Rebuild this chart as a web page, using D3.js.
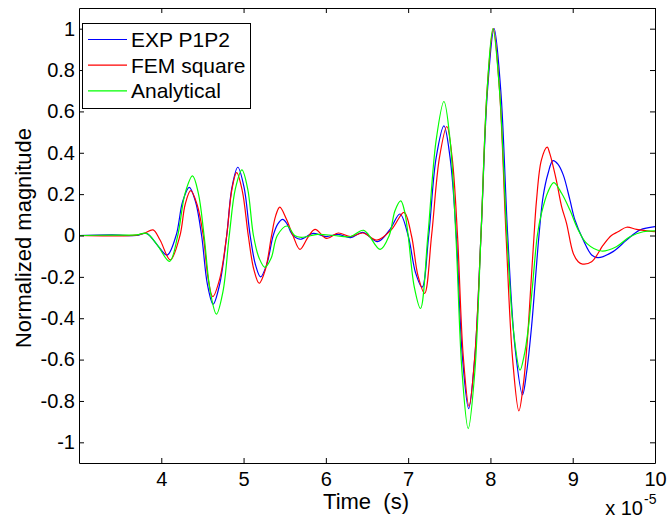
<!DOCTYPE html>
<html>
<head>
<meta charset="utf-8">
<script src="https://cdn.jsdelivr.net/npm/d3@7"></script>
<style>
  body { margin: 0; background: #fff; }
  svg text { font-family: 'Liberation Sans', Arial, sans-serif; fill: #000; }
</style>
</head>
<body>
<div class="chart"></div>
<script>
// time is in units of 1e-5 s (the axis shows "x 10^-5")
const xTicks = [4, 5, 6, 7, 8, 9, 10]
const yTicks = [1, 0.8, 0.6, 0.4, 0.2, 0, -0.2, -0.4, -0.6, -0.8, -1]
const seriesNames = ['EXP P1P2', 'FEM square', 'Analytical']

// [time, normalized magnitude]
const expP1P2 = [
  [3.00, 0.000], [3.40, 0.003], [3.70, 0.000], [3.82, 0.010], [3.95, -0.045],
  [4.07, -0.095], [4.18, 0.000], [4.26, 0.165], [4.34, 0.233], [4.415, 0.165],
  [4.49, 0.000], [4.56, -0.235], [4.63, -0.332], [4.71, -0.235], [4.795, 0.000],
  [4.86, 0.235], [4.93, 0.330], [5.005, 0.235], [5.08, 0.000], [5.145, -0.142],
  [5.207, -0.200], [5.28, -0.142], [5.36, 0.000], [5.415, 0.055], [5.475, 0.078],
  [5.53, 0.055], [5.59, 0.005], [5.685, -0.018], [5.85, 0.010], [6.00, -0.005],
  [6.15, 0.005], [6.30, -0.010], [6.45, 0.015], [6.63, -0.030], [6.78, 0.030],
  [6.90, 0.104], [7.00, 0.000], [7.09, -0.180], [7.17, -0.250], [7.25, 0.000],
  [7.34, 0.375], [7.435, 0.530], [7.51, 0.375], [7.585, 0.000], [7.66, -0.590],
  [7.735, -0.837], [7.81, -0.590], [7.885, 0.000], [7.965, 0.705], [8.045, 1.000],
  [8.125, 0.705], [8.21, 0.000], [8.30, -0.545], [8.39, -0.770], [8.44, -0.660],
  [8.50, -0.440], [8.545, -0.220], [8.59, 0.000], [8.64, 0.188], [8.70, 0.300],
  [8.76, 0.362], [8.82, 0.345], [8.885, 0.293], [8.966, 0.172], [9.027, 0.075],
  [9.128, -0.022], [9.23, -0.094], [9.31, -0.107], [9.49, -0.078], [9.655, -0.022],
  [9.82, 0.027], [10.0, 0.043]
]

const femSquare = [
  [3.00, 0.000], [3.40, -0.002], [3.70, 0.002], [3.80, 0.012], [3.90, 0.027],
  [3.985, -0.022], [4.11, -0.118], [4.227, 0.000], [4.29, 0.150], [4.357, 0.217],
  [4.435, 0.150], [4.51, 0.000], [4.57, -0.210], [4.625, -0.296], [4.71, -0.210],
  [4.795, 0.000], [4.855, 0.215], [4.916, 0.304], [4.985, 0.215], [5.057, 0.000],
  [5.125, -0.165], [5.19, -0.231], [5.265, -0.165], [5.34, 0.000], [5.39, 0.095],
  [5.44, 0.137], [5.52, 0.080], [5.60, 0.000], [5.685, -0.067], [5.78, -0.010],
  [5.868, 0.030], [6.01, -0.014], [6.15, 0.012], [6.30, -0.005], [6.45, 0.012],
  [6.62, -0.022], [6.80, 0.030], [6.95, 0.112], [7.04, 0.000], [7.12, -0.195],
  [7.20, -0.280], [7.285, 0.000], [7.38, 0.375], [7.47, 0.527], [7.535, 0.375],
  [7.60, 0.000], [7.67, -0.585], [7.74, -0.826], [7.81, -0.585], [7.885, 0.000],
  [7.96, 0.705], [8.035, 1.000], [8.11, 0.705], [8.19, 0.000], [8.27, -0.600],
  [8.346, -0.848], [8.40, -0.720], [8.45, -0.500], [8.49, -0.250], [8.53, 0.000],
  [8.56, 0.170], [8.62, 0.366], [8.69, 0.427], [8.72, 0.398], [8.80, 0.269],
  [8.865, 0.140], [8.925, 0.059], [9.006, -0.086], [9.067, -0.127], [9.12, -0.138],
  [9.23, -0.127], [9.37, -0.046], [9.47, 0.000], [9.55, 0.018], [9.655, 0.040],
  [9.776, 0.030], [10.0, 0.018]
]

const analytical = [
  [3.00, 0.000], [3.40, 0.002], [3.70, 0.003], [3.82, 0.010], [3.95, -0.045],
  [4.10, -0.125], [4.20, 0.000], [4.29, 0.205], [4.38, 0.288], [4.45, 0.205],
  [4.52, 0.000], [4.595, -0.270], [4.67, -0.380], [4.75, -0.270], [4.826, 0.000],
  [4.90, 0.225], [4.98, 0.317], [5.05, 0.225], [5.12, 0.000], [5.19, -0.110],
  [5.26, -0.154], [5.335, -0.110], [5.41, 0.000], [5.53, 0.046], [5.62, 0.000],
  [5.70, -0.009], [5.90, 0.005], [6.10, 0.000], [6.30, -0.005], [6.46, 0.025],
  [6.66, -0.067], [6.77, 0.000], [6.84, 0.120], [6.91, 0.167], [6.955, 0.120],
  [7.00, 0.000], [7.075, -0.250], [7.15, -0.353], [7.24, 0.000], [7.34, 0.460],
  [7.435, 0.648], [7.51, 0.460], [7.58, 0.000], [7.655, -0.660], [7.73, -0.934],
  [7.81, -0.660], [7.885, 0.000], [7.96, 0.705], [8.03, 1.000], [8.11, 0.705],
  [8.20, 0.000], [8.28, -0.460], [8.36, -0.651], [8.41, -0.580], [8.46, -0.450],
  [8.51, -0.250], [8.57, 0.000], [8.62, 0.107], [8.70, 0.212], [8.77, 0.256],
  [8.865, 0.204], [8.966, 0.123], [9.067, 0.027], [9.17, -0.038], [9.35, -0.075],
  [9.53, -0.054], [9.695, -0.006], [9.857, 0.018], [10.0, 0.022]
]

const series = [expP1P2, femSquare, analytical]
const colors = ['#0000ff', '#ff0000', '#00ff00']

const width = 669
const height = 519
const plotLeft = 79
const plotRight = 655
const plotTop = 8
const plotBottom = 463

const svg = d3.select('.chart').append('svg')
  .attr('width', width)
  .attr('height', height)

const x = d3.scaleLinear().domain([3, 10]).range([plotLeft, plotRight])
const y = d3.scaleLinear().domain([-1.1, 1.1]).range([plotBottom, plotTop])

svg.append('clipPath').attr('id', 'plot')
  .append('rect')
  .attr('x', plotLeft).attr('y', plotTop)
  .attr('width', plotRight - plotLeft).attr('height', plotBottom - plotTop)

const line = d3.line()
  .x(d => x(d[0]))
  .y(d => y(d[1]))
  .curve(d3.curveCatmullRom.alpha(0.5))

svg.append('g').attr('clip-path', 'url(#plot)')
  .selectAll('path')
  .data(series)
  .enter().append('path')
  .attr('d', line)
  .attr('fill', 'none')
  .attr('stroke', (d, i) => colors[i])
  .attr('stroke-width', 1.2)

// box with inward ticks on every side
const fmt = d => String(d)
const styleAxis = g => {
  g.attr('font-family', null).attr('font-size', null)
  g.select('.domain').attr('stroke', '#000')
  g.selectAll('.tick line').attr('stroke', '#000')
  g.selectAll('.tick text').style('font-size', '20px')
}

svg.append('g')
  .attr('transform', 'translate(0,' + plotBottom + ')')
  .call(d3.axisBottom(x).tickValues(xTicks).tickFormat(fmt)
    .tickSizeInner(-5).tickSizeOuter(0).tickPadding(9))
  .call(styleAxis)

svg.append('g')
  .attr('transform', 'translate(0,' + plotTop + ')')
  .call(d3.axisTop(x).tickValues(xTicks).tickFormat('')
    .tickSizeInner(-5).tickSizeOuter(0))
  .call(styleAxis)

svg.append('g')
  .attr('transform', 'translate(' + plotLeft + ',0)')
  .call(d3.axisLeft(y).tickValues(yTicks).tickFormat(fmt)
    .tickSizeInner(-5).tickSizeOuter(0).tickPadding(4))
  .call(styleAxis)

svg.append('g')
  .attr('transform', 'translate(' + plotRight + ',0)')
  .call(d3.axisRight(y).tickValues(yTicks).tickFormat('')
    .tickSizeInner(-5).tickSizeOuter(0))
  .call(styleAxis)

// axis labels
svg.append('text')
  .attr('x', 366)
  .attr('y', 509)
  .attr('text-anchor', 'middle')
  .style('font-size', '22px')
  .style('white-space', 'pre')
  .text('Time  (s)')

svg.append('text')
  .attr('transform', 'translate(31,238) rotate(-90)')
  .attr('text-anchor', 'middle')
  .style('font-size', '22px')
  .text('Normalized magnitude')

svg.append('text')
  .attr('x', 643)
  .attr('y', 515)
  .attr('text-anchor', 'end')
  .style('font-size', '20px')
  .text('x 10')

svg.append('text')
  .attr('x', 644)
  .attr('y', 504)
  .style('font-size', '14px')
  .text('-5')

// legend
const legend = svg.append('g')
legend.append('rect')
  .attr('x', 82.5).attr('y', 23.5)
  .attr('width', 168).attr('height', 85)
  .attr('fill', '#fff')
  .attr('stroke', '#000')

const item = legend.selectAll('.item')
  .data(seriesNames)
  .enter().append('g')
  .attr('transform', (d, i) => 'translate(0,' + (39.5 + i * 25.7) + ')')

item.append('line')
  .attr('x1', 88).attr('x2', 127)
  .attr('stroke', (d, i) => colors[i])
  .attr('stroke-width', 1.2)

item.append('text')
  .attr('x', 131)
  .attr('y', 7.5)
  .style('font-size', '21px')
  .text(d => d)
</script>
</body>
</html>
